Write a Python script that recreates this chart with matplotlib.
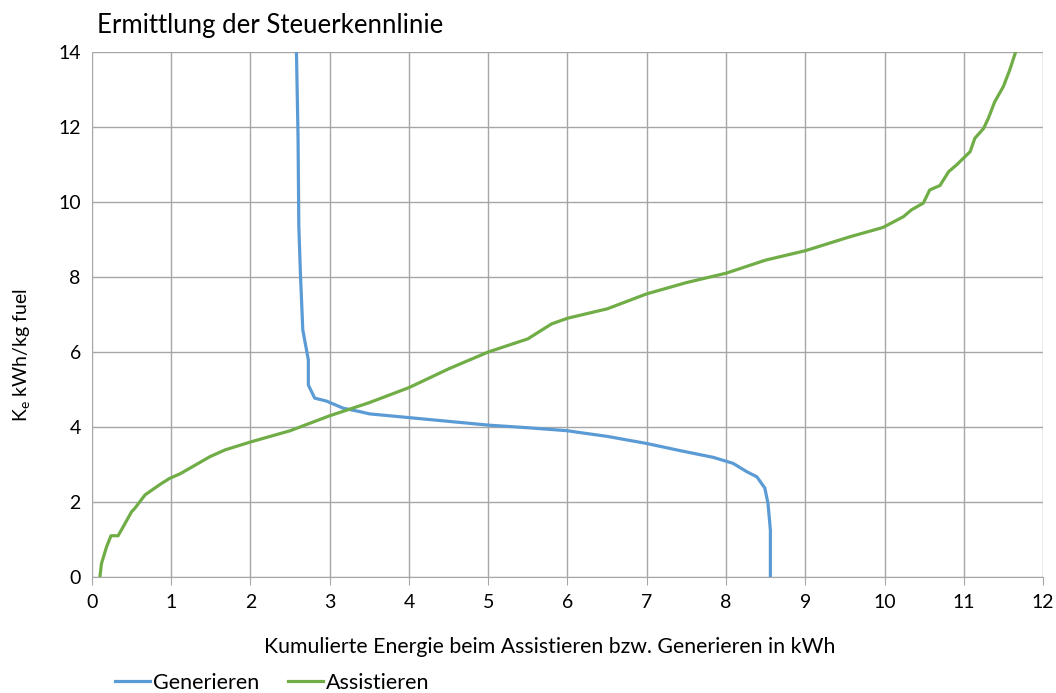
import matplotlib
matplotlib.use("Agg")
import matplotlib.pyplot as plt
from matplotlib.lines import Line2D

# Generieren (blue)
gen_x = [2.58, 2.60, 2.61, 2.63, 2.66, 2.73, 2.73, 2.81, 2.96, 3.17, 3.38, 3.5, 4.0, 4.5, 5.0, 5.5, 6.0, 6.16,
         6.5, 7.0, 7.42, 7.84, 8.09, 8.26, 8.39, 8.49, 8.53, 8.56, 8.56]
gen_y = [14.0, 11.74, 9.34, 8.10, 6.59, 5.79, 5.12, 4.77, 4.69, 4.50, 4.41, 4.35, 4.25, 4.15, 4.05, 3.98, 3.90, 3.85,
         3.75, 3.56, 3.37, 3.19, 3.03, 2.81, 2.67, 2.37, 1.96, 1.25, 0.0]

# Assistieren (green)
ass_x = [0.10, 0.12, 0.185, 0.24, 0.33, 0.37, 0.50, 0.54, 0.67, 0.86, 0.98, 1.11, 1.49, 1.68, 2.0, 2.5, 2.75,
         3.0, 3.5, 4.0, 4.5, 5.0, 5.5, 5.8, 6.0, 6.5, 7.0, 7.5, 8.0, 8.5, 9.0, 9.56, 9.98, 10.24, 10.34,
         10.49, 10.57, 10.70, 10.81, 10.91, 11.08, 11.14, 11.25, 11.31, 11.39, 11.50, 11.58, 11.65]
ass_y = [0.0, 0.36, 0.81, 1.10, 1.10, 1.25, 1.74, 1.83, 2.19, 2.47, 2.63, 2.75, 3.21, 3.39, 3.60, 3.90, 4.10,
         4.30, 4.65, 5.05, 5.55, 6.00, 6.35, 6.75, 6.90, 7.15, 7.55, 7.85, 8.10, 8.45, 8.70, 9.07, 9.32, 9.61, 9.79,
         9.97, 10.32, 10.44, 10.81, 10.99, 11.34, 11.70, 11.96, 12.23, 12.67, 13.08, 13.52, 13.97]

x_ticks = list(range(0, 13))
y_ticks = list(range(0, 15, 2))

plt.rcParams['font.family'] = ['Lato', 'DejaVu Sans']

fig = plt.figure(figsize=(10.56, 6.93), dpi=100)
ax = fig.add_axes([0.0871, 0.1674, 0.9006, 0.7576])

blue = '#5B9BD5'
green = '#70AD47'
ax.plot(gen_x, gen_y, color=blue, lw=2.3, solid_joinstyle='round')
ax.plot(ass_x, ass_y, color=green, lw=2.3, solid_joinstyle='round')

ax.set_xlim(0, 12)
ax.set_ylim(0, 14)
ax.set_xticks(x_ticks)
ax.set_yticks(y_ticks)
ax.grid(True, color='#a6a6a6', lw=1.0)
ax.set_axisbelow(True)
for s in ['top', 'right', 'left']:
    ax.spines[s].set_visible(False)
ax.spines['bottom'].set_color('#a6a6a6')
ax.tick_params(axis='both', length=0, labelsize=14, colors='#000000', pad=8)
ax.tick_params(axis='x', length=6, color='#a6a6a6', direction='out', pad=6)

ax.set_xlabel('Kumulierte Energie beim Assistieren bzw. Generieren in kWh', fontsize=15.3, va='center')
ax.xaxis.set_label_coords(0.4816, -0.133)
fig.text(0.021, 0.488, r'K$_\mathregular{e}$ kWh/kg fuel', fontsize=14, rotation=90, ha='center', va='center')

fig.text(0.092, 0.963, 'Ermittlung der Steuerkennlinie', fontsize=18.5, va='center', ha='left')

handles = [Line2D([0], [0], color=blue, lw=2.3), Line2D([0], [0], color=green, lw=2.3)]
fig.legend(handles, ['Generieren', 'Assistieren'], loc='center left', bbox_to_anchor=(0.1006, 0.0144),
           ncol=2, frameon=False, fontsize=15.5, handlelength=1.63, handletextpad=0.14, columnspacing=1.35,
           borderaxespad=0)

fig.savefig('out.png', dpi=100)
